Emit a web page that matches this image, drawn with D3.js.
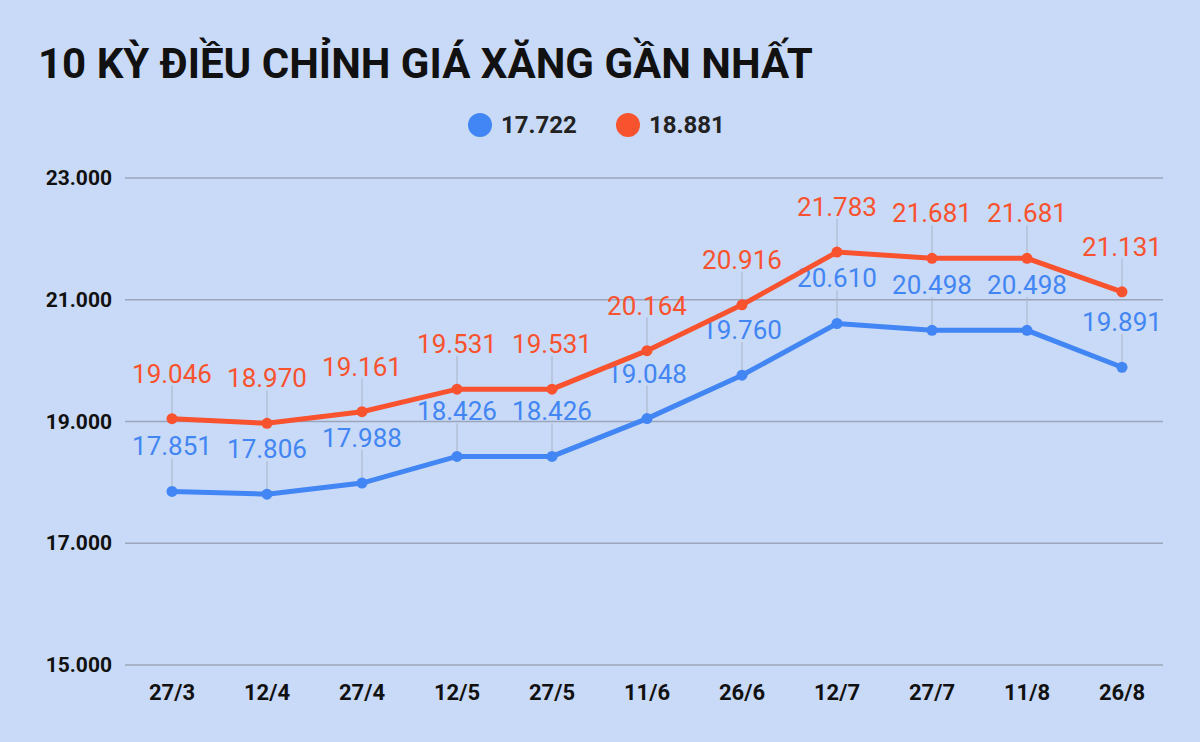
<!DOCTYPE html>
<html><head><meta charset="utf-8">
<script src="https://cdn.jsdelivr.net/npm/d3@7"></script>
<style>body{margin:0;background:#c9d9f8}</style>
</head><body><div id="chart"></div>
<script>
var dates = ["27/3","12/4","27/4","12/5","27/5","11/6","26/6","12/7","27/7","11/8","26/8"]
var ron95 = [19046,18970,19161,19531,19531,20164,20916,21783,21681,21681,21131]
var e5 = [17851,17806,17988,18426,18426,19048,19760,20610,20498,20498,19891]
var yTicks = [15000,17000,19000,21000,23000]
var legendNames = ["17.722","18.881"]

var width = 1200, height = 742
var fmt = function(v){ return d3.format(",")(v).replace(/,/g,".") }

var svg = d3.select("#chart").append("svg")
    .attr("width", width).attr("height", height)
    .style("font-family","Roboto, sans-serif")
svg.append("rect").attr("width",width).attr("height",height).attr("fill","#c9d9f8")

svg.append("text").attr("x",38).attr("y",78)
    .attr("font-size",42).attr("font-weight","bold").attr("fill","#111")
    .text("10 KỲ ĐIỀU CHỈNH GIÁ XĂNG GẦN NHẤT")

var x = d3.scalePoint().domain(dates).range([172,1122])
var y = d3.scaleLinear().domain([15000,23000]).range([665,178])

// grid
svg.selectAll(".grid").data(yTicks).enter().append("line")
    .attr("x1",125).attr("x2",1163)
    .attr("y1",d=>y(d)).attr("y2",d=>y(d))
    .attr("stroke","#9ba6ba").attr("stroke-width",1.5)
svg.selectAll(".ytick").data(yTicks).enter().append("text")
    .attr("x",112).attr("y",d=>y(d)+7).attr("text-anchor","end")
    .attr("font-size",21).attr("font-weight","bold").attr("fill","#111")
    .text(fmt)
svg.selectAll(".xtick").data(dates).enter().append("text")
    .attr("x",d=>x(d)).attr("y",700).attr("text-anchor","middle")
    .attr("font-size",22).attr("font-weight","bold").attr("fill","#111")
    .text(d=>d)

var series = [{vals:e5,color:"#4285f4"},{vals:ron95,color:"#f8522f"}]
var line = d3.line().x((d,i)=>x(dates[i])).y(d=>y(d))

series.forEach(function(s){
  var g = svg.append("g")
  g.selectAll(".lead").data(s.vals).enter().append("line")
    .attr("x1",(d,i)=>x(dates[i])).attr("x2",(d,i)=>x(dates[i]))
    .attr("y1",d=>y(d)).attr("y2",d=>y(d)-33)
    .attr("stroke","#a9b3c6").attr("stroke-width",1)
  g.append("path").datum(s.vals).attr("d",line)
    .attr("fill","none").attr("stroke",s.color).attr("stroke-width",5)
  g.selectAll("circle").data(s.vals).enter().append("circle")
    .attr("cx",(d,i)=>x(dates[i])).attr("cy",d=>y(d)).attr("r",5.5)
    .attr("fill",s.color)
  g.selectAll(".lbl").data(s.vals).enter().append("text")
    .attr("x",(d,i)=>x(dates[i])).attr("y",d=>y(d)-36)
    .attr("text-anchor","middle").attr("font-size",26).attr("fill",s.color)
    .text(fmt)
})

// legend
var lx = [480, 628]
series.forEach(function(s,i){
  svg.append("circle").attr("cx",lx[i]).attr("cy",125).attr("r",12).attr("fill",s.color)
  svg.append("text").attr("x",lx[i]+21).attr("y",133)
    .attr("font-size",24).attr("font-weight","bold").attr("fill","#222")
    .text(legendNames[i])
})
</script></body></html>
